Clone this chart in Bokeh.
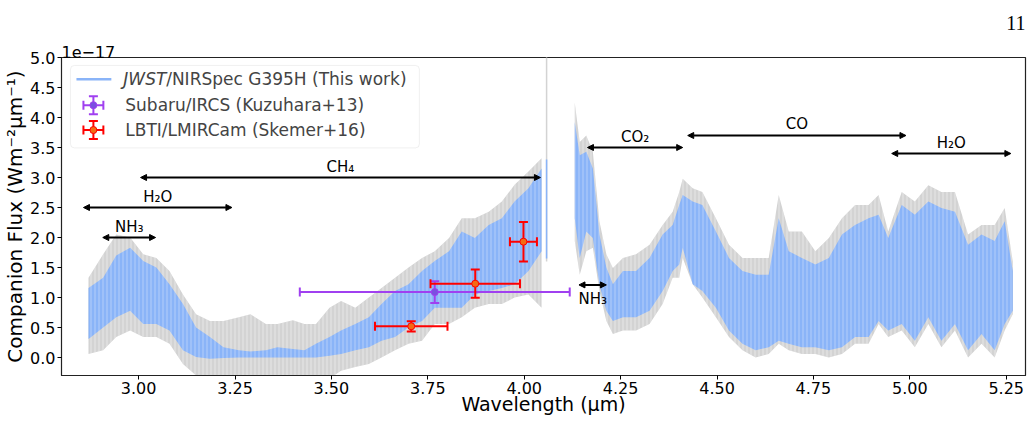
import numpy as np
from bokeh.plotting import figure
from bokeh.models import (ColumnDataSource, Range1d, FixedTicker, PrintfTickFormatter,
                          BoxAnnotation, Label, Arrow, NormalHead, Title)
from bokeh.core.properties import value
from bokeh.embed import file_html
from bokeh.resources import INLINE

# ---------------- data (flux in units of 1e-17 W m^-2 um^-1) ----------------
# JWST/NIRSpec G395H, detector NRS1 (envelopes of the spectrum and its errors)
wave1 = [2.870, 2.908, 2.942, 2.978, 3.012, 3.046, 3.080, 3.115, 3.149, 3.185,
         3.220, 3.260, 3.290, 3.330, 3.360, 3.400, 3.430, 3.460, 3.495, 3.525,
         3.562, 3.597, 3.630, 3.665, 3.700, 3.735, 3.768, 3.805, 3.838, 3.872,
         3.908, 3.942, 3.975, 4.011, 4.045]
gray_hi1 = [1.33, 1.72, 2.05, 2.00, 1.72, 1.66, 1.44, 1.05, 0.72, 0.61,
            0.61, 0.67, 0.72, 0.56, 0.56, 0.62, 0.56, 0.56, 0.83, 0.94,
            0.83, 1.00, 1.16, 1.33, 1.50, 1.66, 1.77, 1.99, 2.32, 2.32,
            2.43, 2.60, 2.88, 3.10, 3.32]
blue_hi1 = [1.16, 1.33, 1.70, 1.83, 1.61, 1.50, 1.22, 0.89, 0.50, 0.34,
            0.17, 0.12, 0.10, 0.12, 0.17, 0.14, 0.12, 0.23, 0.34, 0.45,
            0.56, 0.67, 0.89, 1.11, 1.22, 1.44, 1.61, 1.77, 2.10, 1.99,
            2.21, 2.32, 2.60, 2.82, 3.15]
blue_lo1 = [0.31, 0.50, 0.67, 0.78, 0.56, 0.56, 0.45, 0.12, 0.01, -0.02,
            -0.01, 0.00, 0.00, 0.00, 0.00, 0.00, 0.00, 0.00, 0.03, 0.06,
            0.12, 0.17, 0.28, 0.34, 0.50, 0.61, 0.83, 0.83, 0.83, 1.05,
            1.11, 1.16, 1.22, 1.44, 1.77]
gray_lo1 = [0.06, 0.12, 0.34, 0.45, 0.34, 0.34, 0.23, -0.11, -0.30, -0.35,
            -0.35, -0.35, -0.35, -0.35, -0.35, -0.35, -0.35, -0.35, -0.35, -0.22,
            -0.16, -0.11, 0.00, 0.12, 0.23, 0.28, 0.56, 0.56, 0.67, 0.83,
            0.89, 0.89, 1.00, 1.05, 0.83]
# detector edge point with a very large error
edge_wave = [4.058]
edge_lo = [1.60]
edge_hi = [5.30]
edge_blue_lo = [1.65]
edge_blue_hi = [3.30]

# detector NRS2
wave2 = [4.131, 4.144, 4.161, 4.178, 4.195, 4.213, 4.230, 4.256, 4.290, 4.325,
         4.359, 4.385, 4.402, 4.411, 4.437, 4.462, 4.497, 4.531, 4.566, 4.600,
         4.634, 4.660, 4.686, 4.720, 4.755, 4.790, 4.824, 4.858, 4.893, 4.919,
         4.944, 4.979, 5.013, 5.048, 5.082, 5.117, 5.151, 5.186, 5.220, 5.246,
         5.267]
gray_hi2 = [4.25, 3.59, 3.70, 3.43, 2.27, 1.72, 1.49, 1.66, 1.72, 1.88,
            2.21, 2.43, 2.76, 2.98, 2.82, 2.76, 2.32, 1.88, 1.66, 1.66,
            1.66, 2.71, 2.10, 2.10, 1.77, 1.99, 2.32, 2.54, 2.54, 2.71,
            2.10, 2.76, 2.60, 2.87, 2.76, 2.76, 2.05, 2.21, 2.21, 2.49,
            1.60]
blue_hi2 = [3.92, 3.37, 3.43, 3.15, 2.05, 1.50, 1.22, 1.44, 1.44, 1.66,
            2.05, 2.21, 2.54, 2.71, 2.60, 2.54, 2.10, 1.66, 1.44, 1.38,
            1.38, 2.32, 1.77, 1.66, 1.55, 1.66, 2.05, 2.21, 2.32, 2.38,
            1.99, 2.54, 2.38, 2.60, 2.49, 2.43, 1.88, 2.05, 1.94, 2.27,
            1.44]
blue_lo2 = [2.32, 1.66, 2.10, 1.99, 1.22, 0.78, 0.61, 0.67, 0.67, 0.78,
            1.11, 1.44, 1.55, 1.83, 1.22, 1.11, 0.83, 0.45, 0.23, 0.12,
            0.17, 0.28, 0.23, 0.17, 0.17, 0.12, 0.17, 0.34, 0.34, 0.61,
            0.45, 0.56, 0.28, 0.67, 0.28, 0.56, 0.12, 0.39, 0.12, 0.56,
            0.78]
gray_lo2 = [1.94, 1.38, 1.77, 1.83, 1.11, 0.61, 0.39, 0.45, 0.45, 0.56,
            0.89, 1.33, 1.33, 1.66, 1.22, 1.00, 0.67, 0.34, 0.12, 0.00,
            0.06, 0.23, 0.12, 0.06, 0.06, 0.00, 0.06, 0.23, 0.23, 0.56,
            0.34, 0.45, 0.17, 0.56, 0.17, 0.45, 0.00, 0.23, 0.00, 0.45,
            0.72]

# Subaru/IRCS (Kuzuhara+13)
sub_wave = [3.768]
sub_flux = [1.09]
sub_wave_err = [0.35]
sub_flux_err = [0.18]

# LBTI/LMIRCam (Skemer+16)
lbt_wave = [3.707, 3.873, 3.998]
lbt_flux = [0.52, 1.23, 1.93]
lbt_wave_err = [0.094, 0.116, 0.035]
lbt_flux_err = [0.085, 0.235, 0.33]

# molecular band annotations
mol_names = ["NH\u2083", "H\u2082O", "CH\u2084", "NH\u2083", "CO\u2082", "CO", "H\u2082O"]
mol_start = [2.907, 2.857, 3.005, 4.142, 4.164, 4.424, 4.953]
mol_end = [3.044, 3.242, 4.042, 4.213, 4.411, 4.990, 5.262]
mol_level = [2.00, 2.50, 3.00, 1.21, 3.50, 3.70, 3.40]
mol_text_y = [2.17, 2.68, 3.18, 0.98, 3.68, 3.89, 3.58]

x_ticks = [3.00, 3.25, 3.50, 3.75, 4.00, 4.25, 4.50, 4.75, 5.00, 5.25]
y_ticks = [0.0, 0.5, 1.0, 1.5, 2.0, 2.5, 3.0, 3.5, 4.0, 4.5, 5.0]

# ---------------- styles / layout ----------------
BLUE = "#8ab4f8"
GRAY = "#d3d3d3"
PURPLE = "#a040f0"
PURPLE_FACE = "#7b4fe0"
RED = "#ff0000"
RED_FACE = "#f46a14"
FONT = "DejaVu Sans"

X0, X1, Y0, Y1 = 2.80, 5.30, -0.30, 5.00
FL, FT, FW, FH = 58, 55, 967, 320   # frame left/top/width/height in pixels


def dx(px):
    return X0 + (px - FL) / FW * (X1 - X0)


def dy(py):
    return Y1 - (py - FT) / FH * (Y1 - Y0)


p = figure(width=1032, height=435, x_range=Range1d(X0, X1), y_range=Range1d(Y0, Y1),
           output_backend="svg", toolbar_location=None,
           min_border_left=FL, min_border_right=1032 - FL - FW,
           min_border_top=FT, min_border_bottom=435 - FT - FH)
p.background_fill_color = "white"
p.border_fill_color = "white"
p.outline_line_color = "#222222"
p.outline_line_width = 1.2
p.xgrid.visible = False
p.ygrid.visible = False

# page number (outermost title, right aligned) and the axis offset text next to the frame
p.title.text = "11"
p.title.align = "right"
p.title.text_font = "Liberation Serif"
p.title.text_font_size = "20px"
p.title.text_font_style = "normal"
p.title.text_color = "black"
p.title.standoff = 27
p.add_layout(Title(text="1e\u221217", align="left", text_font=FONT, text_font_size="16px",
                   text_font_style="normal", text_color="black", standoff=0), "above")

# spectrum
for w, ghi, glo, bhi, blo in [(wave1, gray_hi1, gray_lo1, blue_hi1, blue_lo1),
                              (wave2, gray_hi2, gray_lo2, blue_hi2, blue_lo2)]:
    src = ColumnDataSource(dict(w=w, ghi=ghi, glo=glo, bhi=bhi, blo=blo))
    p.varea(x="w", y1="glo", y2="ghi", source=src, fill_color=GRAY,
            hatch_pattern="vertical_line", hatch_color="white", hatch_alpha=0.45,
            hatch_scale=4, hatch_weight=1)
    p.varea(x="w", y1="blo", y2="bhi", source=src, fill_color=BLUE,
            hatch_pattern="vertical_line", hatch_color="white", hatch_alpha=0.35,
            hatch_scale=4, hatch_weight=1)
p.segment(x0=edge_wave, y0=edge_lo, x1=edge_wave, y1=edge_hi, line_color=GRAY, line_width=1.5)
p.segment(x0=edge_wave, y0=edge_blue_lo, x1=edge_wave, y1=edge_blue_hi, line_color=BLUE, line_width=1.5)


def errorbars(wave, flux, werr, ferr, color, face):
    w = np.array(wave); f = np.array(flux); we = np.array(werr); fe = np.array(ferr)
    p.segment(x0=w - we, y0=f, x1=w + we, y1=f, line_color=color, line_width=2)
    p.segment(x0=w, y0=f - fe, x1=w, y1=f + fe, line_color=color, line_width=2)
    p.scatter(x=np.concatenate([w - we, w + we]), y=np.concatenate([f, f]), marker="dash",
              angle=np.pi / 2, size=9, line_color=color, line_width=2)
    p.scatter(x=np.concatenate([w, w]), y=np.concatenate([f - fe, f + fe]), marker="dash",
              size=9, line_color=color, line_width=2)
    p.scatter(x=w, y=f, marker="circle", size=7, fill_color=face, line_color=color, line_width=1)


errorbars(sub_wave, sub_flux, sub_wave_err, sub_flux_err, PURPLE, PURPLE_FACE)
errorbars(lbt_wave, lbt_flux, lbt_wave_err, lbt_flux_err, RED, RED_FACE)

# molecular bands
arrow_src = ColumnDataSource(dict(x0=mol_start, x1=mol_end, y=mol_level))
p.add_layout(Arrow(start=NormalHead(size=6, fill_color="black", line_color="black"),
                   end=NormalHead(size=6, fill_color="black", line_color="black"),
                   x_start="x0", y_start="y", x_end="x1", y_end="y", source=arrow_src,
                   line_color="black", line_width=2))
text_src = ColumnDataSource(dict(x=[(a + b) / 2 for a, b in zip(mol_start, mol_end)],
                                 y=mol_text_y, t=mol_names))
p.text(x="x", y="y", text="t", source=text_src, text_font=value(FONT), text_font_size="15px",
       text_align="center", text_baseline="middle", text_color="black")

# axes
p.xaxis.ticker = FixedTicker(ticks=x_ticks)
p.yaxis.ticker = FixedTicker(ticks=y_ticks)
p.xaxis.formatter = PrintfTickFormatter(format="%.2f")
p.yaxis.formatter = PrintfTickFormatter(format="%.1f")
p.xaxis.axis_label = "Wavelength (\u03bcm)"
p.yaxis.axis_label = "Companion Flux (Wm\u207b\u00b2\u03bcm\u207b\u00b9)"
for ax in (p.xaxis[0], p.yaxis[0]):
    ax.axis_label_text_font = FONT
    ax.axis_label_text_font_size = "19px"
    ax.axis_label_text_font_style = "normal"
    ax.axis_label_text_color = "black"
    ax.major_label_text_font = FONT
    ax.major_label_text_font_size = "16px"
    ax.major_label_text_color = "black"
    ax.major_tick_in = 0
    ax.major_tick_out = 4
    ax.major_tick_line_color = "black"
    ax.minor_tick_line_color = None
    ax.axis_line_color = "#222222"
    ax.major_label_standoff = 2
p.yaxis.axis_label_text_font_size = "20px"
p.xaxis.axis_label_standoff = -4
p.yaxis.axis_label_standoff = 0

# legend (drawn by hand so the error-bar symbols look like the original)
p.add_layout(BoxAnnotation(left=dx(67), right=dx(417), top=dy(63), bottom=dy(146),
                           fill_color="white", fill_alpha=0.9, line_color="#cccccc",
                           line_width=1, border_radius=4, level="underlay"))
p.segment(x0=[dx(73)], y0=[dy(77)], x1=[dx(108)], y1=[dy(77)], line_color=BLUE, line_width=2.5)
for row_y, color, face in [(103, PURPLE, PURPLE_FACE), (128, RED, RED_FACE)]:
    cy = dy(row_y); cx = dx(90)
    p.segment(x0=[dx(80)], y0=[cy], x1=[dx(100)], y1=[cy], line_color=color, line_width=2)
    p.segment(x0=[cx], y0=[dy(row_y - 9)], x1=[cx], y1=[dy(row_y + 9)], line_color=color, line_width=2)
    p.scatter(x=[dx(80), dx(100)], y=[cy, cy], marker="dash", angle=np.pi / 2, size=9,
              line_color=color, line_width=2)
    p.scatter(x=[cx, cx], y=[dy(row_y - 9), dy(row_y + 9)], marker="dash", size=9,
              line_color=color, line_width=2)
    p.scatter(x=[cx], y=[cy], marker="circle", size=7, fill_color=face, line_color=color)

p.add_layout(Label(x=dx(120), y=dy(77), text="JWST", text_font=FONT, text_font_size="17px",
                   text_font_style="italic", text_baseline="middle"))
p.add_layout(Label(x=dx(163), y=dy(77), text="/NIRSpec G395H (This work)", text_font=FONT,
                   text_font_size="17px", text_baseline="middle"))
p.add_layout(Label(x=dx(122), y=dy(103), text="Subaru/IRCS (Kuzuhara+13)", text_font=FONT,
                   text_font_size="17px", text_baseline="middle"))
p.add_layout(Label(x=dx(122), y=dy(128), text="LBTI/LMIRCam (Skemer+16)", text_font=FONT,
                   text_font_size="17px", text_baseline="middle"))

open("out.html", "w").write(file_html(p, INLINE))
